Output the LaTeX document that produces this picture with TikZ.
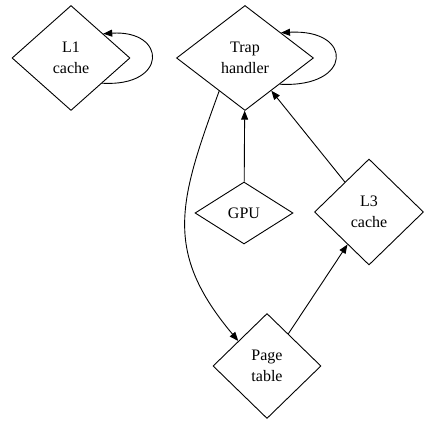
\documentclass[tikz,border=0pt]{standalone}
\usepackage{fontspec}
\setmainfont{Liberation Serif}
\usetikzlibrary{arrows.meta, positioning, shapes.geometric}

\tikzset{
  state/.style={draw, diamond, inner sep=0pt, line width=0.9pt, align=center, font=\fontsize{16}{21}\selectfont},
  link/.style={line width=0.9pt, -{Triangle[length=9pt, width=7pt]}}
}

\begin{document}
\begin{tikzpicture}[x=1pt, y=1pt]
    \useasboundingbox (0,0) rectangle (425,422);
    \node (l1_cache) [state, minimum width=118pt, minimum height=105pt] at (71,364) {L1\\ cache};
    \node (trap_handler) [state, minimum width=137pt, minimum height=105pt] at (245,364) {Trap\\ handler};
    \node (gpu) [state, minimum width=98pt, minimum height=62pt] at (244,209) {GPU};
    \node (l3_cache) [state, minimum width=109pt, minimum height=106pt] at (369,210) {L3\\ cache};
    \node (page_table) [state, minimum width=108pt, minimum height=105pt] at (267,56) {Page\\ table};

        % self loops
        \draw[link] (l1_cache.-39) .. controls +(66,-4) and +(64,4) .. (l1_cache.37);
        \draw[link] (trap_handler.-37) .. controls +(73,-4) and +(73,4) .. (trap_handler.35);

        \draw[link] (gpu) -- (trap_handler);
        \draw[link] (l3_cache) -- (trap_handler);
        \draw[link] (trap_handler.232) to[out=250, in=130, looseness=1.2] (page_table.139);
        \draw[link] (page_table) -- (l3_cache);
\end{tikzpicture}
\end{document}
